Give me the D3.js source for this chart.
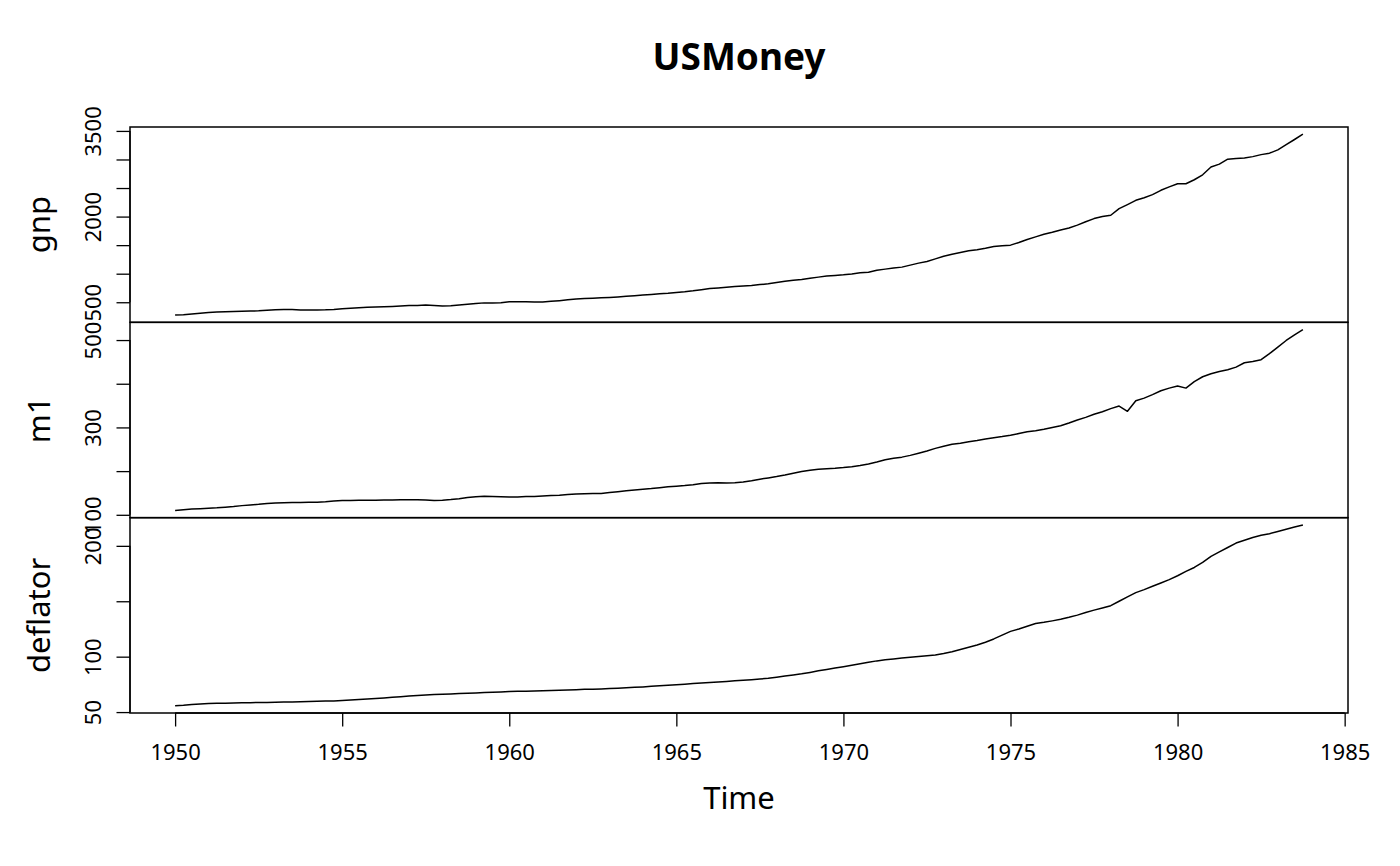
<!DOCTYPE html>
<html>
<head>
<meta charset="utf-8">
<script src="https://cdn.jsdelivr.net/npm/d3@7"></script>
<style>
  html, body { margin: 0; padding: 0; background: #ffffff; }
  svg { display: block; font-family: "Noto Sans", "Open Sans", sans-serif; }
</style>
</head>
<body>
<svg id="chart" width="1400" height="866"></svg>
<script>
// ---- Data (quarterly, 1950 Q1 - 1983 Q4) ----
const startYear = 1950;
const frequency = 4;

const gnp = [
  275, 283, 296, 308,   320, 328, 334, 338,   342, 345, 350, 360,   368, 372, 371, 366,
  365, 364, 367, 374,   385, 395, 404, 412,   416, 421, 427, 434,   442, 445, 450, 444,
  436, 440, 452, 465,   477, 489, 488, 493,   507, 507, 508, 504,   504, 516, 528, 543,
  556, 564, 571, 577,   585, 593, 604, 614,   627, 637, 648, 656,   672, 684, 700, 720,
  740, 751, 764, 776,   786, 794, 809, 824,   847, 869, 886, 899,   920, 940, 958, 970,
  980, 995, 1015, 1025, 1060, 1080, 1100, 1115, 1150, 1185, 1215, 1260, 1305, 1340, 1370, 1400,
  1420, 1445, 1475, 1490, 1500, 1545, 1600, 1645, 1690, 1725, 1765, 1800, 1850, 1910, 1965, 2000,
  2024, 2139, 2210, 2285, 2330, 2384, 2460, 2520, 2575, 2575, 2645, 2732, 2867, 2919, 3006, 3015,
  3024, 3050, 3085, 3111, 3168, 3260, 3350, 3442
];

const m1 = [
  110, 111.5, 113, 114,   115, 116, 117.5, 119,   121, 122.5, 124, 126,   127, 127.5, 128, 128,
  128.5, 129, 130, 131.5, 132.5, 133, 133.3, 133.5, 133.5, 133.8, 134, 134.3, 134.3, 134.2, 133.8, 133,
  133.5, 135, 137, 139.5, 141.5, 142.5, 142, 141.5, 141, 141, 142, 142,   143, 144, 145, 146.5,
  147.5, 148, 148.5, 149, 151, 153, 155, 157,   158.5, 160, 162, 164,   165.5, 167, 169, 171.5,
  173, 173.5, 173, 173.5, 175, 178, 181.5, 184.5, 187.5, 191, 195, 199,  202, 204.5, 205.5, 206.5,
  208, 210, 213, 216.5, 221, 226, 229.5, 232,   236, 241, 246, 252,   257, 261.5, 264, 267,
  270, 273.5, 276.5, 279, 282, 286, 290, 292.5, 296, 300, 304, 310,   317, 323, 330, 336,
  343, 349, 337, 361,   367, 375, 384, 390,   395, 390, 405, 416,   423, 428, 432, 438,
  448, 451, 455, 469,   484, 499, 512, 524
];

const deflator = [
  55.7, 56.1, 56.8, 57.3, 57.7, 57.9, 58.0, 58.2, 58.4, 58.5, 58.6, 58.7, 58.8, 59.0, 59.2, 59.4,
  59.6, 59.7, 59.9, 60.1, 60.4, 60.8, 61.3, 61.8, 62.3, 62.8, 63.3, 63.9, 64.5, 65.0, 65.5, 65.8,
  66.1, 66.4, 66.7, 67.0, 67.3, 67.6, 67.9, 68.2, 68.5, 68.7, 68.9, 69.1, 69.3, 69.5, 69.7, 69.9,
  70.2, 70.5, 70.7, 70.9, 71.2, 71.5, 71.9, 72.3, 72.7, 73.2, 73.7, 74.2, 74.7, 75.2, 75.7, 76.2,
  76.6, 77.1, 77.6, 78.2, 78.7, 79.2, 79.8, 80.5, 81.5, 82.5, 83.5, 84.5, 85.8, 87.2, 88.5, 89.8,
  91.0, 92.3, 93.6, 95.0, 96.2, 97.2, 98.0, 98.8, 99.5, 100.2, 100.8, 101.5, 102.8, 104.5, 106.5, 108.5,
  110.5, 113.0, 116.0, 119.5, 122.8, 125.0, 127.5, 130.0, 131.0, 132.3, 133.7, 135.5, 137.5, 139.8, 142.0, 144.0,
  146.0, 150.0, 154.0, 157.8, 160.5, 163.5, 166.5, 169.5, 173.0, 177.0, 180.5, 185.0, 190.5, 194.5, 198.5, 202.5,
  205.0, 207.5, 209.5, 211.0, 213.0, 215.0, 217.0, 218.9
];

const seriesNames = ["gnp", "m1", "deflator"];
const xTicks = [1950, 1955, 1960, 1965, 1970, 1975, 1980, 1985];
const gnpTicks = [500, 1000, 1500, 2000, 2500, 3000, 3500];
const gnpTickLabels = [500, 2000, 3500];
const m1Ticks = [100, 200, 300, 400, 500];
const m1TickLabels = [100, 300, 500];
const deflatorTicks = [50, 100, 150, 200];
const deflatorTickLabels = [50, 100, 200];
const chartTitle = "USMoney";
const xTitle = "Time";

(function () {
  // ---- Layout ----
  const svg = d3.select("#chart");
  const pLeft = 130, pRight = 1348, pTop = 127, pBottom = 713;
  const panelH = (pBottom - pTop) / 3;
  const tickLen = 13.5;
  const tickFont = "22px";
  const labFont = 31;

  const times = gnp.map((_, i) => startYear + i / frequency);
  const tExt = d3.extent(times);
  const tPad = (tExt[1] - tExt[0]) * 0.04;
  const x = d3.scaleLinear().domain([tExt[0] - tPad, tExt[1] + tPad]).range([pLeft, pRight]);

  const panels = [
    { name: seriesNames[0], values: gnp, ticks: gnpTicks, labels: gnpTickLabels },
    { name: seriesNames[1], values: m1, ticks: m1Ticks, labels: m1TickLabels },
    { name: seriesNames[2], values: deflator, ticks: deflatorTicks, labels: deflatorTickLabels }
  ];

  panels.forEach((p, k) => {
    const y0 = pTop + k * panelH, y1 = pTop + (k + 1) * panelH;
    const ext = d3.extent(p.values);
    const pad = (ext[1] - ext[0]) * 0.04;
    const y = d3.scaleLinear().domain([ext[0] - pad, ext[1] + pad]).range([y1, y0]);
    const g = svg.append("g");

    const line = d3.line().x((d, i) => x(times[i])).y(d => y(d));
    g.append("path").datum(p.values)
      .attr("d", line).attr("fill", "none")
      .attr("stroke", "#000").attr("stroke-width", 1.5)
      .attr("stroke-linejoin", "round");

    const axis = d3.axisLeft(y).tickValues(p.ticks).tickSize(tickLen)
      .tickFormat(d => p.labels.includes(d) ? String(d) : "");
    const ax = g.append("g").attr("transform", `translate(${pLeft},0)`).call(axis)
      .attr("font-size", null).attr("font-family", null);
    ax.select(".domain").attr("d", `M0,${y(p.ticks[0])}V${y(p.ticks[p.ticks.length - 1])}`)
      .attr("stroke-width", 1.3);
    ax.selectAll(".tick line").attr("stroke-width", 1.3);
    ax.selectAll(".tick text")
      .attr("x", null).attr("dy", null)
      .attr("transform", "translate(-29,0) rotate(-90)")
      .attr("text-anchor", "middle")
      .style("font-size", tickFont)
      .style("font-family", "'Noto Sans'")
      .attr("fill", "#000");

    svg.append("text")
      .attr("transform", `translate(50,${(y0 + y1) / 2}) rotate(-90)`)
      .attr("text-anchor", "middle")
      .attr("font-size", labFont)
      .attr("fill", "#000")
      .text(p.name);

    svg.append("rect").attr("x", pLeft).attr("y", y0)
      .attr("width", pRight - pLeft).attr("height", y1 - y0)
      .attr("fill", "none").attr("stroke", "#000").attr("stroke-width", 1.5);
  });

  const xAxis = d3.axisBottom(x).tickValues(xTicks).tickSize(tickLen).tickFormat(d3.format("d"));
  const xa = svg.append("g").attr("transform", `translate(0,${pBottom})`).call(xAxis)
    .attr("font-size", null).attr("font-family", null);
  xa.select(".domain").attr("d", `M${x(xTicks[0])},0H${x(xTicks[xTicks.length - 1])}`).attr("stroke-width", 1.3);
  xa.selectAll(".tick line").attr("stroke-width", 1.3);
  xa.selectAll(".tick text")
    .attr("y", 47).attr("dy", null)
    .style("font-size", tickFont).style("font-family", "'Noto Sans'").attr("fill", "#000");

  svg.append("text").attr("x", (pLeft + pRight) / 2).attr("y", 809)
    .attr("text-anchor", "middle").attr("font-size", labFont).attr("fill", "#000").text(xTitle);

  svg.append("text").attr("x", (pLeft + pRight) / 2).attr("y", 70)
    .attr("text-anchor", "middle").attr("font-size", 37).attr("font-weight", "bold")
    .attr("fill", "#000").text(chartTitle);
})();
</script>
</body>
</html>
